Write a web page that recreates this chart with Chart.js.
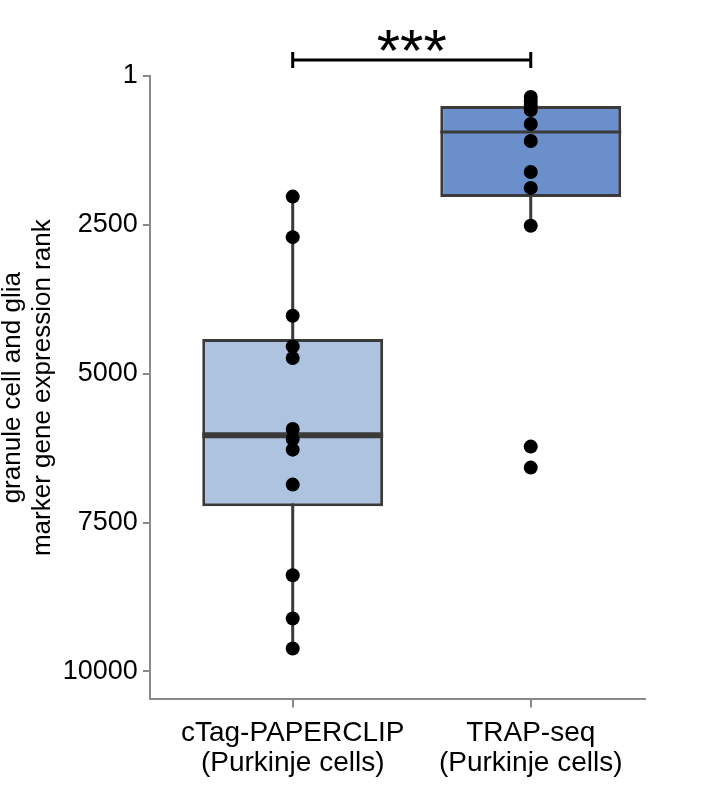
<!DOCTYPE html>
<html>
<head>
<meta charset="utf-8">
<script src="https://cdn.jsdelivr.net/npm/chart.js@4/dist/chart.umd.min.js"></script>
<style>
  html, body { margin: 0; padding: 0; background: #fff; }
  #wrap { width: 724px; height: 789px; position: relative; }
</style>
</head>
<body>
<div id="wrap"><canvas id="rank-chart"></canvas></div>
<script>
// groups on the x axis
const groupNames = ['cTag-PAPERCLIP', 'TRAP-seq'];
const groupSub = '(Purkinje cells)';

// individual marker gene ranks
const ctagRanks = [2026, 2707, 4027, 4542, 4737, 5928, 6096, 6276, 6863, 8385, 9111, 9614];
const trapRanks = [353, 420, 488, 571, 806, 1092, 1612, 1880, 2517, 6225, 6577];

// box summary per group
const boxQ1 = [4418, 504];
const boxMedian = [6036, 941];
const boxQ3 = [7227, 2031];
const whiskerLow = [2026, 353];
const whiskerHigh = [9614, 2517];

const yTicks = [1, 2500, 5000, 7500, 10000];
const sigLabel = '***';

const FONT = '"Liberation Sans", Arial, Helvetica, sans-serif';
const LINE = '#3a3a3a';

// box parts chart.js has no element for: whiskers, medians, bracket
const boxParts = {
  id: 'boxParts',
  beforeDatasetsDraw(chart) {
    const x = chart.scales.x, y = chart.scales.y, ctx = chart.ctx;
    ctx.save();
    ctx.strokeStyle = LINE;
    ctx.lineWidth = 3;
    groupNames.forEach((g, i) => {
      const px = x.getPixelForValue(i);
      ctx.beginPath();
      ctx.moveTo(px, y.getPixelForValue(whiskerLow[i]));
      ctx.lineTo(px, y.getPixelForValue(whiskerHigh[i]));
      ctx.stroke();
    });
    ctx.restore();
  },
  afterDatasetDraw(chart, args) {
    if (args.index !== 0) return;
    const y = chart.scales.y, ctx = chart.ctx;
    const bars = chart.getDatasetMeta(0).data;
    const widths = [6, 3];
    ctx.save();
    ctx.strokeStyle = LINE;
    bars.forEach((bar, i) => {
      const py = y.getPixelForValue(boxMedian[i]);
      ctx.lineWidth = widths[i];
      ctx.beginPath();
      ctx.moveTo(bar.x - bar.width / 2, py);
      ctx.lineTo(bar.x + bar.width / 2, py);
      ctx.stroke();
    });
    ctx.restore();
  },
  afterDraw(chart) {
    const x = chart.scales.x, ctx = chart.ctx;
    const x0 = x.getPixelForValue(0), x1 = x.getPixelForValue(1);
    const yb = chart.chartArea.top - 16;
    ctx.save();
    ctx.strokeStyle = '#000';
    ctx.lineWidth = 3;
    ctx.beginPath();
    ctx.moveTo(x0, yb); ctx.lineTo(x1, yb);
    ctx.moveTo(x0, yb - 8); ctx.lineTo(x0, yb + 8);
    ctx.moveTo(x1, yb - 8); ctx.lineTo(x1, yb + 8);
    ctx.stroke();
    ctx.fillStyle = '#000';
    ctx.font = '60px ' + FONT;
    ctx.textAlign = 'center';
    ctx.textBaseline = 'alphabetic';
    ctx.fillText(sigLabel, (x0 + x1) / 2, yb + 11);
    ctx.restore();
  }
};

const ctx = document.getElementById('rank-chart').getContext('2d');
const chart = new Chart(ctx, {
  type: 'bar',
  data: {
    datasets: [{
      type: 'bar',
      order: 2,
      data: groupNames.map((g, i) => ({ x: i, y: [boxQ1[i], boxQ3[i]] })),
      backgroundColor: ['#aec3e0', '#6a8fca'],
      borderColor: LINE,
      borderWidth: 3,
      borderSkipped: false,
      categoryPercentage: 1,
      barPercentage: 0.76
    }, {
      type: 'scatter',
      order: 1,
      data: ctagRanks.map(v => ({ x: 0, y: v })).concat(trapRanks.map(v => ({ x: 1, y: v }))),
      pointRadius: 7,
      pointBackgroundColor: '#000',
      pointBorderWidth: 0,
      showLine: false
    }]
  },
  options: {
    responsive: true,
    maintainAspectRatio: false,
    animation: false,
    events: [],
    layout: { padding: { top: 76, right: 79, bottom: 0, left: -2 } },
    plugins: { legend: { display: false }, tooltip: { enabled: false } },
    scales: {
      x: {
        type: 'linear',
        min: -0.6,
        max: 1.48,
        offset: false,
        afterBuildTicks: s => { s.ticks = [{ value: 0 }, { value: 1 }]; },
        ticks: {
          color: '#000',
          font: { family: FONT, size: 28, lineHeight: 1.1 },
          padding: 10,
          maxRotation: 0,
          callback: v => [groupNames[v], groupSub]
        },
        grid: { offset: false, drawOnChartArea: false, drawTicks: true, tickLength: 8, color: '#8a8a8a', lineWidth: 2 },
        border: { color: '#8a8a8a', width: 2 }
      },
      y: {
        reverse: true,
        min: 1,
        max: 10470,
        afterBuildTicks: s => { s.ticks = yTicks.map(v => ({ value: v })); },
        ticks: {
          color: '#000',
          font: { family: FONT, size: 27 },
          padding: 5,
          callback: v => String(v)
        },
        grid: { offset: false, drawOnChartArea: false, drawTicks: true, tickLength: 7, color: '#8a8a8a', lineWidth: 2 },
        border: { color: '#8a8a8a', width: 2 },
        title: {
          display: true,
          text: ['granule cell and glia', 'marker gene expression rank'],
          color: '#000',
          font: { family: FONT, size: 26, lineHeight: 1.15 },
          padding: { top: 0, bottom: 0 }
        }
      }
    }
  },
  plugins: [boxParts]
});
</script>
</body>
</html>
